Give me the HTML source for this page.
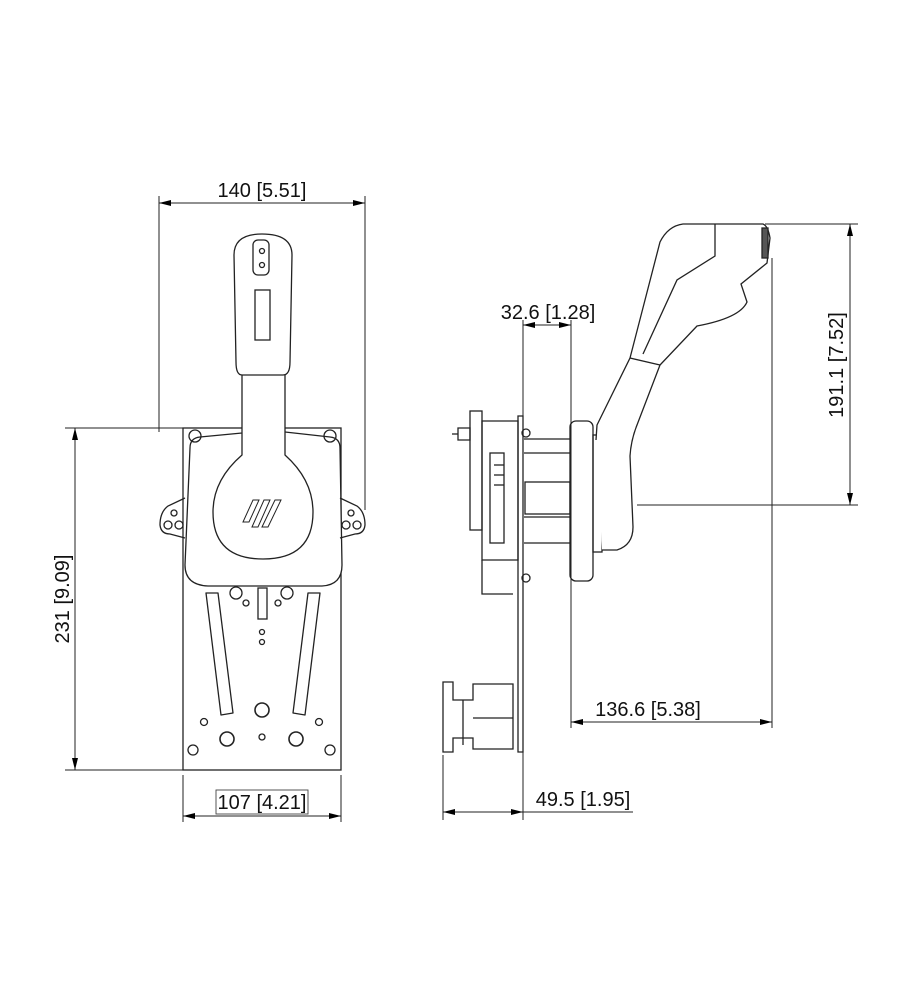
<!DOCTYPE html>
<html><head><meta charset="utf-8"><style>
html,body{margin:0;padding:0;background:#fff;}
svg{display:block;}
text{font-family:"Liberation Sans",sans-serif;font-size:20px;fill:#111;}
</style></head><body>
<svg width="900" height="1000" viewBox="0 0 900 1000" xmlns="http://www.w3.org/2000/svg">
<defs>
<marker id="a" viewBox="0 0 12 6" refX="12" refY="3" markerWidth="13" markerHeight="6" orient="auto-start-reverse" markerUnits="userSpaceOnUse"><path d="M0,0 L12,3 L0,6 z" fill="#000"/></marker>
</defs>
<g fill="none" stroke="#222" stroke-width="1.3">
<!-- FRONT VIEW -->
<rect x="183" y="428" width="158" height="342" stroke-width="1.3"/>
<path d="M190,448 Q190,438 200,437 L242,433 L252,430 L285,432 L330,437 Q340,438 340,448 L342,565 Q342,585 322,586 L208,586 Q185,585 185,565 Z" fill="#fff"/>
<path d="M185,498 L168,506 Q160,512 160,525 Q161,534 170,534 L185,538"/>
<path d="M340,498 L357,506 Q365,512 365,525 Q364,534 355,534 L340,538"/>
<circle cx="174" cy="513" r="3"/><circle cx="168" cy="525" r="4"/><circle cx="179" cy="525" r="4"/>
<circle cx="351" cy="513" r="3"/><circle cx="357" cy="525" r="4"/><circle cx="346" cy="525" r="4"/>
<circle cx="195" cy="436" r="6"/><circle cx="330" cy="436" r="6"/>
<path d="M242,375 L242,455 Q213,480 213,512 Q213,559 263,559 Q313,559 313,512 Q313,480 285,455 L285,375" fill="#fff"/>
<path d="M242,375 Q236,375 236,362 L234,255 Q234,234 262,234 Q292,234 292,255 L290,362 Q290,375 283,375 Z" fill="#fff"/>
<rect x="253" y="240" width="16" height="35" rx="5"/>
<circle cx="262" cy="251" r="2.5"/><circle cx="262" cy="265" r="2.5"/>
<rect x="255" y="290" width="15" height="50"/>
<g stroke-width="1"><path d="M243,522 L253,500 L259,500 L249,522 Z"/><path d="M252,527 L264,500 L270,500 L258,527 Z"/><path d="M262,527 L275,500 L281,500 L268,527 Z"/></g>
<path d="M206,593 L218,593 L233,713 L221,715 Z" stroke-linejoin="round"/>
<path d="M308,593 L320,593 L305,715 L293,713 Z" stroke-linejoin="round"/>
<circle cx="236" cy="593" r="6"/><circle cx="287" cy="593" r="6"/>
<rect x="258" y="588" width="9" height="31"/>
<circle cx="246" cy="603" r="3"/><circle cx="278" cy="603" r="3"/>
<circle cx="262" cy="632" r="2.5"/><circle cx="262" cy="642" r="2.5"/>
<circle cx="262" cy="710" r="7" stroke-width="1.6"/>
<circle cx="227" cy="739" r="7" stroke-width="1.6"/><circle cx="296" cy="739" r="7" stroke-width="1.6"/>
<circle cx="204" cy="722" r="3.5"/><circle cx="319" cy="722" r="3.5"/>
<circle cx="262" cy="737" r="3"/>
<circle cx="193" cy="750" r="5"/><circle cx="330" cy="750" r="5"/>

<!-- SIDE VIEW -->
<path d="M523,416 L523,752 L518,752 L518,416 Z" fill="#fff"/>
<rect x="470" y="411" width="12" height="119"/>
<path d="M458,428 L470,428 L470,440 L458,440 Z"/><line x1="452" y1="434" x2="458" y2="434"/>
<path d="M482,421 L518,421 L518,560 L482,560 Z"/>
<path d="M482,560 L482,594 L513,594"/>
<rect x="490" y="453" width="14" height="90"/>
<line x1="494" y1="465" x2="504" y2="465"/><line x1="494" y1="475" x2="504" y2="475"/><line x1="494" y1="485" x2="504" y2="485"/>
<circle cx="526" cy="433" r="4"/><circle cx="526" cy="578" r="4"/>
<path d="M524,439 L570,439 M524,453 L570,453 M524,517 L570,517 M524,543 L570,543"/>
<rect x="525" y="482" width="45" height="32"/>
<rect x="570" y="421" width="23" height="160" rx="6" fill="#fff"/>
<rect x="593" y="435" width="9" height="117"/>
<path d="M602,550 L617,550 Q633,545 633,527 L630,456 Q631,440 637,425 L660,365 L697,326 Q740,318 747,302 L741,284 L767,263 L770,238 Q768,226 763,224 L683,224 Q668,226 660,242 L630,358 L597,425 L596,440" fill="#fff"/>
<path d="M715,224 L715,256 L677,280 L643,354"/>
<path d="M630,358 L660,365"/>
<rect x="762" y="228" width="6" height="30" fill="#555"/>
<path d="M443,682 L453,682 L453,700 L473,700 L473,684 L513,684 L513,749 L473,749 L473,738 L453,738 L453,752 L443,752 Z"/>
<line x1="473" y1="718" x2="513" y2="718"/>
<line x1="463" y1="700" x2="463" y2="745"/>

<!-- DIMENSIONS -->
<g stroke="#222" stroke-width="1">
<line x1="159" y1="196" x2="159" y2="432"/><line x1="365" y1="196" x2="365" y2="510"/>
<line x1="159" y1="203" x2="365" y2="203" marker-start="url(#a)" marker-end="url(#a)"/>
<line x1="65" y1="428" x2="185" y2="428"/><line x1="65" y1="770" x2="185" y2="770"/>
<line x1="75" y1="428" x2="75" y2="770" marker-start="url(#a)" marker-end="url(#a)"/>
<line x1="183" y1="775" x2="183" y2="822"/><line x1="341" y1="775" x2="341" y2="822"/>
<line x1="183" y1="816" x2="341" y2="816" marker-start="url(#a)" marker-end="url(#a)"/>
<line x1="523" y1="320" x2="523" y2="416"/><line x1="571" y1="320" x2="571" y2="728"/>
<line x1="523" y1="325" x2="571" y2="325" marker-start="url(#a)" marker-end="url(#a)"/>
<line x1="765" y1="224" x2="858" y2="224"/><line x1="637" y1="505" x2="858" y2="505"/>
<line x1="850" y1="224" x2="850" y2="505" marker-start="url(#a)" marker-end="url(#a)"/>
<line x1="772" y1="258" x2="772" y2="728"/>
<line x1="571" y1="722" x2="772" y2="722" marker-start="url(#a)" marker-end="url(#a)"/>
<line x1="443" y1="755" x2="443" y2="820"/><line x1="523" y1="752" x2="523" y2="820"/>
<line x1="443" y1="812" x2="523" y2="812" marker-start="url(#a)" marker-end="url(#a)"/>
<line x1="523" y1="812" x2="633" y2="812"/>
</g>
</g>
<rect x="216" y="790" width="92" height="24" fill="#fff" stroke="#444" stroke-width="0.9"/>
<text x="262" y="197" text-anchor="middle">140 [5.51]</text>
<text x="262" y="809" text-anchor="middle">107 [4.21]</text>
<text x="548" y="319" text-anchor="middle">32.6 [1.28]</text>
<text x="648" y="716" text-anchor="middle">136.6 [5.38]</text>
<text x="583" y="806" text-anchor="middle">49.5 [1.95]</text>
<text transform="translate(69,599) rotate(-90)" text-anchor="middle">231 [9.09]</text>
<text transform="translate(843,365) rotate(-90)" text-anchor="middle">191.1 [7.52]</text>
</svg>
</body></html>
